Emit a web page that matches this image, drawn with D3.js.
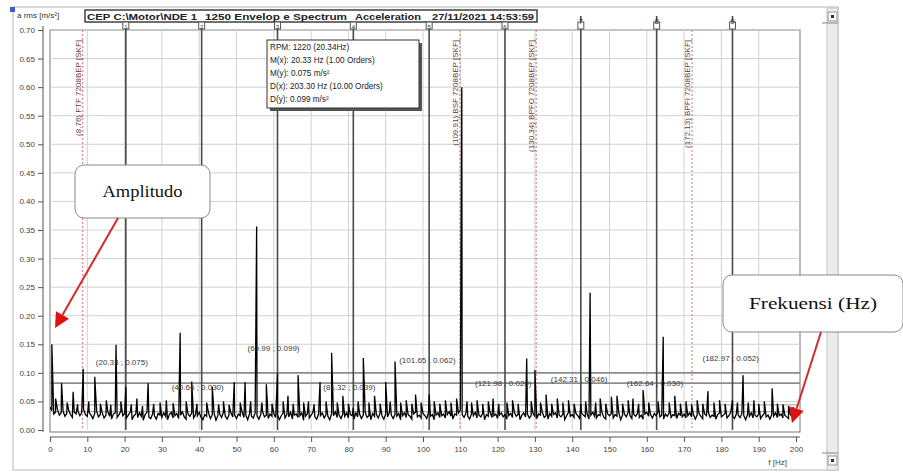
<!DOCTYPE html>
<html><head><meta charset="utf-8">
<script src="https://cdn.jsdelivr.net/npm/d3@7"></script>
<style>
html,body{margin:0;padding:0;background:#fff;}
svg{display:block;font-family:Arial,"Liberation Sans",sans-serif;}
</style></head><body>
<svg id="c" width="903" height="473"></svg>
<script>
// ---------------- DATA ----------------
const yTicks = [0.00,0.05,0.10,0.15,0.20,0.25,0.30,0.35,0.40,0.45,0.50,0.55,0.60,0.65,0.70];
const xTicks = [0,10,20,30,40,50,60,70,80,90,100,110,120,130,140,150,160,170,180,190,200];

// noise floor of the envelope spectrum, one value every 0.5 Hz (0 .. 200 Hz)
const floorStep = 0.5;
const noiseFloor = [
0.040,0.034,0.028,0.031,0.036,0.026,0.030,0.033,0.024,0.029,0.035,0.027,0.022,0.031,0.028,0.033,0.025,0.030,0.036,0.027,
0.024,0.031,0.026,0.020,0.029,0.033,0.023,0.027,0.030,0.021,0.026,0.032,0.024,0.019,0.028,0.030,0.022,0.027,0.033,0.025,
0.029,0.021,0.026,0.031,0.018,0.025,0.028,0.022,0.030,0.024,0.017,0.027,0.031,0.023,0.020,0.028,0.025,0.019,0.029,0.026,
0.022,0.030,0.024,0.018,0.027,0.031,0.021,0.025,0.029,0.020,0.026,0.032,0.023,0.019,0.028,0.024,0.030,0.021,0.027,0.025,
0.031,0.022,0.018,0.027,0.024,0.030,0.020,0.026,0.029,0.017,0.025,0.028,0.022,0.031,0.024,0.019,0.027,0.030,0.023,0.026,
0.020,0.028,0.025,0.031,0.022,0.026,0.018,0.029,0.024,0.021,0.030,0.025,0.019,0.027,0.032,0.023,0.026,0.020,0.028,0.024,
0.029,0.022,0.026,0.018,0.025,0.030,0.021,0.027,0.023,0.031,0.019,0.026,0.028,0.022,0.025,0.030,0.017,0.024,0.029,0.021,
0.026,0.031,0.023,0.019,0.028,0.025,0.030,0.021,0.027,0.024,0.018,0.029,0.025,0.032,0.022,0.026,0.020,0.028,0.024,0.030,
0.021,0.027,0.025,0.019,0.030,0.023,0.028,0.020,0.026,0.031,0.022,0.025,0.018,0.029,0.024,0.027,0.021,0.030,0.025,0.019,
0.028,0.023,0.031,0.026,0.020,0.027,0.024,0.029,0.018,0.025,0.030,0.022,0.027,0.024,0.019,0.028,0.031,0.023,0.026,0.021,
0.029,0.025,0.020,0.031,0.024,0.027,0.018,0.026,0.030,0.022,0.025,0.028,0.021,0.027,0.032,0.024,0.019,0.028,0.026,0.030,
0.035,0.027,0.022,0.029,0.024,0.019,0.028,0.025,0.031,0.021,0.026,0.023,0.029,0.018,0.027,0.024,0.030,0.022,0.025,0.028,
0.020,0.026,0.030,0.023,0.027,0.019,0.025,0.029,0.022,0.031,0.024,0.027,0.018,0.026,0.030,0.023,0.028,0.021,0.025,0.029,
0.024,0.020,0.028,0.026,0.031,0.022,0.025,0.019,0.029,0.024,0.027,0.030,0.021,0.026,0.023,0.028,0.018,0.025,0.031,0.024,
0.027,0.022,0.029,0.025,0.020,0.030,0.026,0.023,0.028,0.019,0.026,0.031,0.024,0.021,0.027,0.025,0.030,0.022,0.019,0.028,
0.025,0.029,0.021,0.027,0.024,0.030,0.018,0.026,0.028,0.023,0.031,0.025,0.020,0.027,0.024,0.029,0.022,0.026,0.019,0.028,
0.031,0.024,0.027,0.021,0.029,0.025,0.032,0.023,0.026,0.019,0.028,0.024,0.030,0.022,0.027,0.025,0.020,0.029,0.026,0.023,
0.028,0.021,0.025,0.030,0.023,0.027,0.019,0.026,0.029,0.024,0.020,0.028,0.025,0.031,0.022,0.026,0.024,0.019,0.027,0.030,
0.023,0.026,0.029,0.021,0.025,0.031,0.024,0.020,0.028,0.026,0.022,0.029,0.025,0.018,0.027,0.024,0.030,0.021,0.026,0.023,
0.028,0.020,0.025,0.029,0.023,0.026,0.019,0.027,0.024,0.030,0.022,0.025,0.028,0.021,0.026,0.023,0.020,0.027,0.024,0.022,
0.025
];

// spectral lines (Hz, m/s²)
const peakFreqs = [0.5,1.5,3.1,4.6,6.2,7.4,8.9,10.4,12.0,13.5,15.1,16.3,17.7,19.0,20.33,21.8,23.3,24.8,26.3,27.8,29.5,31.2,33.0,34.9,36.5,38.0,39.4,
  42.0,43.5,45.2,46.5,48.0,49.4,51.0,52.3,53.8,55.4,56.8,58.0,59.5,60.99,62.5,63.8,65.2,66.5,68.0,69.3,70.8,72.4,74.0,75.5,77.0,78.5,80.0,81.32,
  82.6,84.0,85.5,87.0,88.5,90.0,91.2,92.5,94.0,95.5,97.0,98.0,99.5,101.65,103.0,104.5,106.0,107.5,109.0,110.4,111.8,113.0,114.5,116.0,117.5,118.8,
  120.3,122.5,124.0,125.5,127.8,129.0,130.0,131.5,133.0,134.5,136.0,137.5,139.0,140.5,142.31,143.6,144.8,146.3,147.5,149.0,150.5,152.0,153.5,
  155.0,156.3,157.8,159.0,160.5,163.0,164.4,166.0,167.5,169.0,170.5,172.0,173.5,175.0,176.4,178.0,179.5,181.0,182.97,184.3,185.8,187.2,188.7,
  190.0,191.5,193.6,195.0,196.5,198.0,199.3];
const peakAmps = [0.150,0.055,0.082,0.048,0.067,0.045,0.107,0.050,0.093,0.046,0.052,0.044,0.149,0.050,0.075,0.045,0.055,0.042,0.082,0.046,0.048,0.052,0.047,0.170,0.050,0.085,0.046,
  0.048,0.076,0.045,0.050,0.044,0.084,0.048,0.084,0.050,0.356,0.048,0.080,0.046,0.099,0.050,0.060,0.046,0.096,0.048,0.050,0.045,0.084,0.050,0.135,0.048,0.060,0.046,0.039,
  0.050,0.126,0.048,0.060,0.046,0.084,0.050,0.120,0.048,0.052,0.046,0.062,0.048,0.062,0.050,0.046,0.052,0.048,0.055,0.600,0.050,0.048,0.052,0.046,0.050,0.055,
  0.046,0.048,0.052,0.046,0.125,0.050,0.105,0.048,0.062,0.046,0.055,0.048,0.052,0.046,0.046,0.050,0.240,0.048,0.055,0.046,0.058,0.060,0.046,
  0.052,0.055,0.046,0.070,0.048,0.050,0.163,0.048,0.060,0.046,0.050,0.045,0.052,0.046,0.068,0.048,0.052,0.046,0.052,0.048,0.096,0.048,0.052,
  0.046,0.050,0.073,0.046,0.045,0.042,0.040];

// harmonic cursor (1x .. 9x of 20.33 Hz) and its readings
const harmonicFreqs = [20.33,40.66,60.99,81.32,101.65,121.98,142.31,162.64,182.97];
const harmonicAmps  = [0.075,0.030,0.099,0.039,0.062,0.020,0.046,0.030,0.052];

// bearing defect frequencies, SKF 7208BEP
const bearingFreqs = [8.76,109.91,130.34,172.13];
const bearingNames = ["FTF","BSF","BPFO","BPFI"];

// reference (alarm) levels
const levelValues = [0.100,0.082,0.044,0.032];

const headerItems = ["CEP C:\\Motor\\NDE 1","1250 Envelop e Spectrum","Acceleration","27/11/2021 14:53:59"];
const infoLines = ["RPM:  1220 (20.34Hz)","M(x):  20.33 Hz (1.00 Orders)","M(y):  0.075 m/s\u00b2","D(x):  203.30 Hz (10.00 Orders)","D(y):  0.099 m/s\u00b2"];

// ---------------- DRAW ----------------
const svg = d3.select("#c");
const L = 50, R = 796, T = 30, B = 430;
const x = d3.scaleLinear().domain([0,200]).range([L,R]);
const y = d3.scaleLinear().domain([0,0.7]).range([B,T]);

// window frame
svg.append("rect").attr("x",13).attr("y",7).attr("width",825).attr("height",463)
  .attr("fill","#fff").attr("stroke","#b5b5b5");
svg.append("rect").attr("x",10).attr("y",7).attr("width",5).attr("height",5).attr("fill","#3a5fcd");
// scrollbar
svg.append("rect").attr("x",827).attr("y",8).attr("width",11).attr("height",462).attr("fill","#ececec").attr("stroke","#c4c4c4");
svg.append("rect").attr("x",828).attr("y",12).attr("width",9).attr("height",9).attr("fill","#f6f6f6").attr("stroke","#999");
svg.append("rect").attr("x",831).attr("y",15).attr("width",3).attr("height",3).attr("fill","#333");
svg.append("line").attr("x1",822).attr("x2",838).attr("y1",23).attr("y2",23).attr("stroke","#888");
svg.append("rect").attr("x",828).attr("y",456).attr("width",9).attr("height",9).attr("fill","#f6f6f6").attr("stroke","#999");
svg.append("rect").attr("x",831).attr("y",459).attr("width",3).attr("height",3).attr("fill","#333");
svg.append("line").attr("x1",822).attr("x2",838).attr("y1",453).attr("y2",453).attr("stroke","#888");

// plot area frame
svg.append("rect").attr("x",L).attr("y",T).attr("width",800-L).attr("height",B-T+2)
  .attr("fill","#fff").attr("stroke","#777");

// grid
const grid = svg.append("g");
grid.selectAll(".gx").data(xTicks.slice(1,-1)).enter().append("line")
  .attr("x1",d=>x(d)).attr("x2",d=>x(d)).attr("y1",T).attr("y2",B)
  .attr("stroke","#d2d2d2").attr("stroke-width",1);
grid.selectAll(".gy").data(yTicks.slice(1)).enter().append("line")
  .attr("x1",L).attr("x2",800).attr("y1",d=>y(d)).attr("y2",d=>y(d))
  .attr("stroke","#d2d2d2").attr("stroke-width",1);

// reference level lines
svg.selectAll(".lvl").data(levelValues).enter().append("line")
  .attr("x1",L).attr("x2",800).attr("y1",d=>y(d)).attr("y2",d=>y(d))
  .attr("stroke",(d,i)=>i<2?"#8e8e8e":"#b0b0b0").attr("stroke-width",(d,i)=>i<2?1.8:1.2);

// bearing frequency lines (red dotted) + rotated labels
svg.selectAll(".bl").data(bearingFreqs).enter().append("line")
  .attr("x1",d=>x(d)).attr("x2",d=>x(d)).attr("y1",T).attr("y2",B)
  .attr("stroke","#e07070").attr("stroke-width",1).attr("stroke-dasharray","2,2");
svg.selectAll(".btxt").data(bearingFreqs).enter().append("text")
  .attr("transform",d=>`translate(${x(d)-2},${T+10}) rotate(-90)`)
  .attr("text-anchor","end").attr("font-size",8).attr("fill","#6a3a3a")
  .text((d,i)=>`(${d.toFixed(2)}) ${bearingNames[i]} 7208BEP [SKF]`);

// harmonic cursor lines
svg.selectAll(".hl").data(harmonicFreqs).enter().append("line")
  .attr("x1",d=>x(d)).attr("x2",d=>x(d)).attr("y1",16).attr("y2",B)
  .attr("stroke","#4a4a4a").attr("stroke-width",1.6);

// spectrum
const pts = noiseFloor.map((v,i)=>[i*floorStep,v])
  .concat(peakFreqs.map((f,i)=>[f,peakAmps[i]]))
  .sort((a,b)=>a[0]-b[0]);
svg.append("clipPath").attr("id","clip").append("rect").attr("x",L).attr("y",T).attr("width",800-L).attr("height",B-T);
svg.append("path").datum(pts).attr("clip-path","url(#clip)")
  .attr("d",d3.line().x(d=>x(d[0])).y(d=>y(d[1])))
  .attr("fill","none").attr("stroke","#000").attr("stroke-width",1.3);

// harmonic reading labels
const labLift = [0.119,0.075,0.144,0.075,0.123,0.082,0.090,0.082,0.126];
svg.selectAll(".hlab").data(harmonicFreqs).enter().append("text")
  .attr("x",d=>x(d)-30).attr("y",(d,i)=>y(labLift[i])+3)
  .attr("font-size",8).attr("fill","#3a3a3a")
  .text((d,i)=>`(${d.toFixed(2)} ; ${harmonicAmps[i].toFixed(3)})`);

// header strip
svg.append("text").attr("x",17).attr("y",18).attr("font-size",8).attr("fill","#333").text("a rms [m/s\u00b2]");
const hdr = svg.append("g");
hdr.append("rect").attr("x",85).attr("y",10).attr("width",452).attr("height",12)
  .attr("fill","#fff").attr("stroke","#333").attr("stroke-width",1.4);
const hdrX = [87,205,355,432];
hdr.selectAll("text").data(headerItems).enter().append("text")
  .attr("x",(d,i)=>hdrX[i]).attr("y",19.5).attr("font-size",8.5).attr("font-weight","bold")
  .attr("fill","#222").attr("textLength",(d,i)=>[110,142,66,102][i]).attr("lengthAdjust","spacingAndGlyphs")
  .text(d=>d);
// cursor tags
const tags = svg.selectAll(".tag").data(harmonicFreqs).enter().append("g")
  .attr("transform",d=>`translate(${x(d)},0)`);
tags.append("rect").attr("x",-3).attr("y",22).attr("width",6).attr("height",7)
  .attr("fill","#fff").attr("stroke","#555");
tags.append("text").attr("x",0).attr("y",(d,i)=>i>5?24:28.5).attr("text-anchor","middle")
  .attr("font-size",(d,i)=>i>5?8:6).attr("fill","#333").text((d,i)=>i+1);

// info box
const ib = svg.append("g").attr("transform","translate(267,40)");
ib.append("rect").attr("x",3).attr("y",3).attr("width",152).attr("height",68).attr("fill","#555");
ib.append("rect").attr("width",152).attr("height",68).attr("fill","#fff").attr("stroke","#333");
ib.selectAll("text").data(infoLines).enter().append("text")
  .attr("x",3).attr("y",(d,i)=>10+i*13).attr("font-size",8.2).attr("fill","#222").text(d=>d);

// axes
const ya = svg.append("g").attr("transform","translate(43,0)")
  .call(d3.axisLeft(y).tickValues(yTicks).tickSize(5).tickFormat(d3.format(".2f")));
ya.select(".domain").attr("stroke","#555").attr("d",`M0,${T-4}V${B+2}`);
ya.selectAll(".tick line").attr("stroke","#555");
ya.selectAll("text").attr("font-size",8).attr("fill","#444").attr("font-family","Arial");

const xa = svg.append("g").attr("transform","translate(0,437)")
  .call(d3.axisBottom(x).tickValues(xTicks).tickSize(5).tickFormat(d3.format("d")));
xa.select(".domain").attr("stroke","#555").attr("d",`M${L},0H800`);
xa.selectAll(".tick line").attr("stroke","#555");
xa.selectAll("text").attr("font-size",8).attr("fill","#444").attr("font-family","Arial").attr("dy","0.9em");
svg.append("text").attr("x",787).attr("y",465).attr("text-anchor","end").attr("font-size",8).attr("fill","#444").text("f [Hz]");

// annotation callouts
function callout(bx,by,bw,bh,label,fs,tl,x1,y1,x2,y2){
  const g = svg.append("g");
  g.append("rect").attr("x",bx).attr("y",by).attr("width",bw).attr("height",bh).attr("rx",9)
    .attr("fill","#fff").attr("stroke","#8a8a8a").attr("stroke-width",1);
  g.append("text").attr("x",bx+bw/2).attr("y",by+bh/2+5).attr("text-anchor","middle")
    .attr("font-family","'Liberation Serif','DejaVu Serif',serif").attr("font-size",fs).attr("fill","#111")
    .attr("textLength",tl).attr("lengthAdjust","spacingAndGlyphs").text(label);
  const ang = Math.atan2(y2-y1,x2-x1), hl = 15, hw = 7.5;
  const bxp = x2 - hl*Math.cos(ang), byp = y2 - hl*Math.sin(ang);
  g.append("line").attr("x1",x1).attr("y1",y1).attr("x2",bxp).attr("y2",byp)
    .attr("stroke","#d42a2a").attr("stroke-width",2);
  g.append("path").attr("d",`M${x2},${y2}L${bxp+hw*Math.sin(ang)},${byp-hw*Math.cos(ang)}L${bxp-hw*Math.sin(ang)},${byp+hw*Math.cos(ang)}Z`)
    .attr("fill","#e01010");
}
callout(75,165,135,53,"Amplitudo",16,80,118,218,55,328);
callout(723,275,180,57,"Frekuensi (Hz)",17,128,821,332,792,423);
</script>
</body></html>
